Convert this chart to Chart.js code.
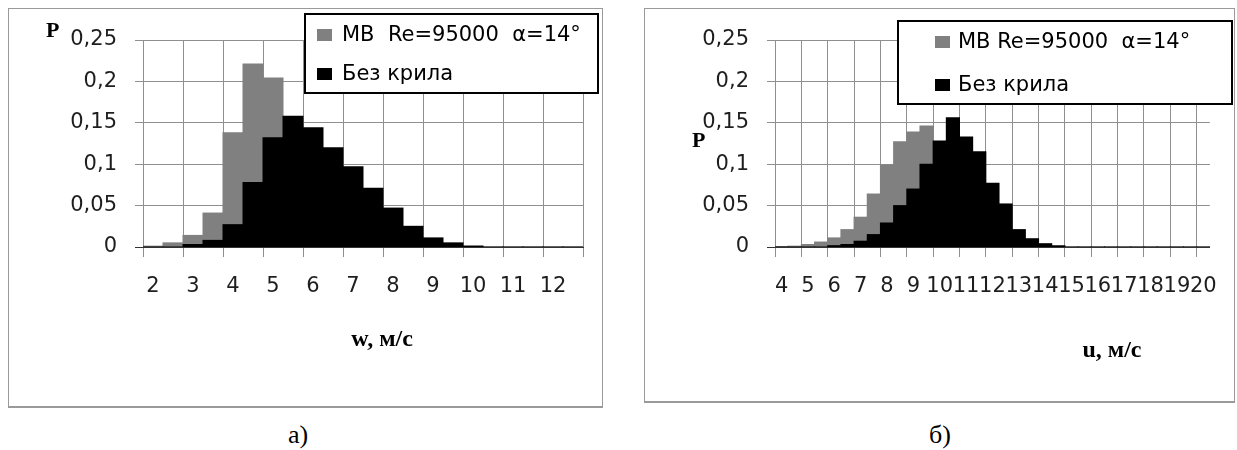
<!DOCTYPE html>
<html>
<head>
<meta charset="utf-8">
<script src="https://cdn.jsdelivr.net/npm/chart.js@4.4.1/dist/chart.umd.min.js"></script>
<style>
  body { margin: 0; background: #fff; }
  .frame { position: absolute; border: 1px solid #9a9a9a; border-bottom-width: 2px; background: #fff; }
  .frame canvas { display: block; }
  .caption { position: absolute; width: 80px; text-align: center; font: 26px/26px "Liberation Serif", serif; color: #000; }
</style>
</head>
<body>
<div class="frame" style="left:8px; top:8px;"><canvas id="chart-w" width="593" height="397"></canvas></div>
<div class="frame" style="left:644px; top:8px;"><canvas id="chart-u" width="589" height="392"></canvas></div>
<div class="caption" style="left:258px; top:422px;">а)</div>
<div class="caption" style="left:900px; top:422px;">б)</div>
<script>
// а) w, м/с — класи по 0,5 м/с
var wBins = [2, 2.5, 3, 3.5, 4, 4.5, 5, 5.5, 6, 6.5, 7, 7.5, 8, 8.5, 9, 9.5, 10, 10.5, 11, 11.5, 12, 12.5];
var wWing = [0.001, 0.005, 0.014, 0.041, 0.138, 0.221, 0.204, 0.15, 0.11, 0.07, 0.03, 0.012, 0.004, 0, 0, 0, 0, 0, 0, 0, 0, 0];
var wFree = [0, 0, 0.003, 0.008, 0.027, 0.078, 0.132, 0.158, 0.144, 0.12, 0.097, 0.071, 0.047, 0.025, 0.011, 0.005, 0.0012, 0, 0, 0, 0, 0];
var wSeries = ['МВ  Re=95000  α=14°', 'Без крила'];

// б) u, м/с
var uBins = [4, 4.5, 5, 5.5, 6, 6.5, 7, 7.5, 8, 8.5, 9, 9.5, 10, 10.5, 11, 11.5, 12, 12.5,
             13, 13.5, 14, 14.5, 15, 15.5, 16, 16.5, 17, 17.5, 18, 18.5, 19, 19.5, 20];
var uWing = [0.0005, 0.001, 0.003, 0.006, 0.011, 0.021, 0.036, 0.064, 0.099, 0.127, 0.139, 0.146, 0.12, 0.1, 0.07, 0.035, 0.015, 0.005,
             0.0015, 0, 0, 0, 0, 0, 0, 0, 0, 0, 0, 0, 0, 0, 0];
var uFree = [0, 0, 0, 0, 0.0016, 0.003, 0.007, 0.015, 0.029, 0.05, 0.07, 0.1, 0.128, 0.156, 0.133, 0.115, 0.077, 0.052,
             0.021, 0.01, 0.004, 0.0015, 0, 0, 0, 0, 0, 0, 0, 0, 0, 0, 0];
var uSeries = ['МВ Re=95000  α=14°', 'Без крила'];

var pTicks = ['0', '0,05', '0,1', '0,15', '0,2', '0,25'];

var GRID = '#8f8f8f';
var AXIS = '#333333';
var TEXT = '#1e1e1e';
var tickFont = { family: 'DejaVu Sans', size: 21 };

// legend box + axis letters drawn on top of the plot
var frameText = {
  id: 'frameText',
  afterDraw: function (chart, args, o) {
    var ctx = chart.ctx;
    var L = o.legend;
    ctx.save();
    ctx.fillStyle = '#fff';
    ctx.fillRect(L.x, L.y, L.w, L.h);
    ctx.lineWidth = 2;
    ctx.strokeStyle = '#000';
    ctx.strokeRect(L.x, L.y, L.w, L.h);
    ctx.font = '21px "DejaVu Sans"';
    ctx.textAlign = 'left';
    ctx.textBaseline = 'alphabetic';
    chart.data.datasets.forEach(function (ds, i) {
      var base = L.rows[i];
      ctx.fillStyle = ds.backgroundColor;
      ctx.fillRect(L.markX, base - 12, 15, 12);
      ctx.fillStyle = '#000';
      ctx.fillText(ds.label, L.textX, base);
    });
    o.notes.forEach(function (n) {
      ctx.font = n.font;
      ctx.textAlign = n.align;
      ctx.fillStyle = '#000';
      ctx.fillText(n.text, n.x, n.y);
    });
    ctx.restore();
  }
};

function makeChart(id, bins, wing, free, names, area, extra) {
  var canvas = document.getElementById(id);
  var W = canvas.width, H = canvas.height;
  var n = bins.length;
  // vertical grid only on every second class boundary
  var everyOther = function (c) {
    var i = c.index === undefined ? n : c.index;
    return i % 2 === 0 ? GRID : 'rgba(0,0,0,0)';
  };
  return new Chart(canvas.getContext('2d'), {
    type: 'bar',
    data: {
      labels: bins,
      datasets: [
        { label: names[0], data: wing, backgroundColor: '#808080', order: 2 },
        { label: names[1], data: free, backgroundColor: '#000000', order: 1 }
      ]
    },
    options: {
      responsive: false,
      animation: false,
      datasets: { bar: { grouped: false, categoryPercentage: 1, barPercentage: 1, inflateAmount: 0.5 } },
      layout: { padding: { left: 0, top: area.top, right: W - area.right, bottom: 0 } },
      scales: {
        x: {
          afterFit: function (s) { s.height = H - area.bottom; },
          grid: { offset: true, color: everyOther, tickLength: 10 },
          border: { display: true, color: AXIS },
          ticks: {
            autoSkip: false, maxRotation: 0, minRotation: 0, padding: 17,
            color: TEXT, font: tickFont,
            callback: function (v, i) { return Number.isInteger(bins[i]) ? String(bins[i]) : ''; }
          }
        },
        y: {
          min: 0, max: 0.25,
          afterFit: function (s) { s.width = area.left; },
          border: { display: false },
          grid: {
            color: function (c) { return c.tick && c.tick.value === 0 ? AXIS : GRID; },
            tickLength: 8
          },
          ticks: {
            stepSize: 0.05, padding: 18, color: TEXT, font: tickFont,
            callback: function (v, i) { return pTicks[i]; }
          }
        }
      },
      plugins: {
        legend: { display: false },
        tooltip: { enabled: false },
        frameText: extra
      }
    },
    plugins: [frameText]
  });
}

makeChart('chart-w', wBins, wWing, wFree, wSeries,
  { left: 134, right: 574, top: 31, bottom: 238 },
  {
    legend: { x: 296, y: 5, w: 293, h: 79, markX: 308, textX: 333, rows: [32, 71] },
    notes: [
      { text: 'P', x: 37, y: 28, align: 'left', font: 'bold 22px "Liberation Serif"' },
      { text: 'w, м/с', x: 373, y: 337, align: 'center', font: 'bold 24px "Liberation Serif"' }
    ]
  });

makeChart('chart-u', uBins, uWing, uFree, uSeries,
  { left: 130, right: 566, top: 31, bottom: 238 },
  {
    legend: { x: 253, y: 12, w: 334, h: 83, markX: 290, textX: 313, rows: [39, 82] },
    notes: [
      { text: 'P', x: 47, y: 138, align: 'left', font: 'bold 22px "Liberation Serif"' },
      { text: 'u, м/с', x: 467, y: 348, align: 'center', font: 'bold 24px "Liberation Serif"' }
    ]
  });
</script>
</body>
</html>
